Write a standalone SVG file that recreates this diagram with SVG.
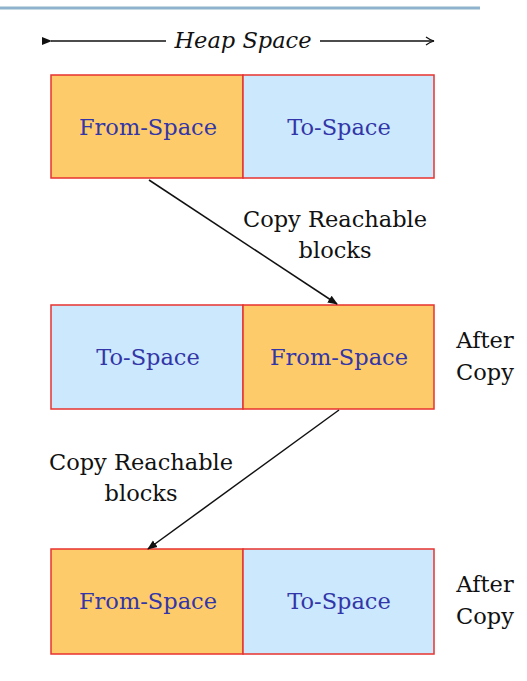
<svg xmlns="http://www.w3.org/2000/svg" width="527" height="681" viewBox="0 0 527 681">
<style>
.from{fill:#fecb6a;stroke:#e8332f;stroke-width:1.5}
.to{fill:#cce8fc;stroke:#e8332f;stroke-width:1.5}
.con{stroke:#111;stroke-width:1.5;fill:none}
.s{font-family:'DejaVu Serif',serif;font-size:22.5px;text-anchor:middle}
.b{fill:#3236a8}
.k{fill:#111}
</style>
<defs>
<marker id="ah" viewBox="0 0 10 10" refX="9" refY="5" markerWidth="10" markerHeight="10" markerUnits="userSpaceOnUse" orient="auto">
<path d="M0,1 L10,5 L0,9 Z" fill="#111"/>
</marker>
<marker id="ahl" viewBox="0 0 10 10" refX="1" refY="5" markerWidth="10" markerHeight="10" markerUnits="userSpaceOnUse" orient="auto">
<path d="M10,1 L0,5 L10,9 Z" fill="#111"/>
</marker>
<marker id="open" viewBox="0 0 10 10" refX="9" refY="5" markerWidth="10" markerHeight="10" markerUnits="userSpaceOnUse" orient="auto">
<path d="M1,1 Q5,4 9,5 Q5,6 1,9" fill="none" stroke="#111" stroke-width="1.2"/>
</marker>
</defs>
<line x1="0" y1="8" x2="480" y2="8" stroke="#8fb3cc" stroke-width="3"/>
<g id="heap">
<line class="con" x1="166" y1="41" x2="51" y2="41" marker-end="url(#ahl)"/>
<line class="con" x1="320" y1="41" x2="434" y2="41" marker-end="url(#open)"/>
<text class="s k" x="243" y="48" font-style="italic" font-size="20">Heap Space</text>
</g>
<g id="row1">
<rect class="from" x="51" y="75" width="192" height="103"/>
<rect class="to" x="243" y="75" width="191" height="103"/>
<text class="s b" x="148" y="135">From-Space</text>
<text class="s b" x="339" y="135">To-Space</text>
</g>
<g id="row2">
<rect class="to" x="51" y="305" width="192" height="104"/>
<rect class="from" x="243" y="305" width="191" height="104"/>
<text class="s b" x="148" y="365">To-Space</text>
<text class="s b" x="339" y="365">From-Space</text>
</g>
<g id="row3">
<rect class="from" x="51" y="549" width="192" height="105"/>
<rect class="to" x="243" y="549" width="191" height="105"/>
<text class="s b" x="148" y="609">From-Space</text>
<text class="s b" x="339" y="609">To-Space</text>
</g>
<g id="after1">
<text class="s k" x="485" y="348">After</text>
<text class="s k" x="485" y="380">Copy</text>
</g>
<g id="after2">
<text class="s k" x="485" y="592">After</text>
<text class="s k" x="485" y="624">Copy</text>
</g>
<g id="connectors">
<line class="con" x1="149" y1="180" x2="337" y2="304" marker-end="url(#ah)"/>
<line class="con" x1="339" y1="410" x2="148" y2="549" marker-end="url(#ah)"/>
<text class="s k" x="335" y="227">Copy Reachable</text>
<text class="s k" x="335" y="258">blocks</text>
<text class="s k" x="141" y="470">Copy Reachable</text>
<text class="s k" x="141" y="501">blocks</text>
</g>
</svg>
